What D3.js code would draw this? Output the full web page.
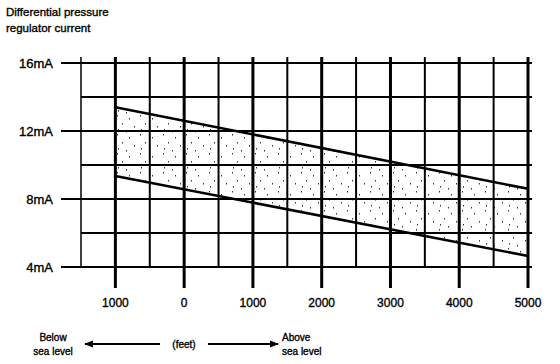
<!DOCTYPE html>
<html>
<head>
<meta charset="utf-8">
<script src="https://cdn.jsdelivr.net/npm/d3@7"></script>
<style>
  body { margin: 0; background: #fff; }
  text { font-family: "Liberation Sans", Arial, sans-serif; fill: #000; stroke: #000; stroke-width: 0.35px; }
</style>
</head>
<body>
<div id="chart"></div>
<script>
// altitude in feet (negative = below sea level) and regulator current in mA
var altitudes = [-1000, 5000];
var upperCurrent = [13.4, 8.6];
var lowerCurrent = [9.35, 4.65];

var xTicks = [-1000, 0, 1000, 2000, 3000, 4000, 5000];
var xTickLabels = ["1000", "0", "1000", "2000", "3000", "4000", "5000"];
var xGrid = [-1500, -1000, -500, 0, 500, 1000, 1500, 2000, 2500, 3000, 3500, 4000, 4500, 5000];
var yTicks = [4, 8, 12, 16];
var yTickLabels = ["4mA", "8mA", "12mA", "16mA"];
var yGrid = [4, 6, 8, 10, 12, 14, 16];

var width = 560, height = 364;

var svg = d3.select("#chart")
    .append("svg")
    .attr("width", width)
    .attr("height", height);

// scales
var x = d3.scaleLinear()
    .domain([-1500, 5000])
    .range([81, 528]);

var y = d3.scaleLinear()
    .domain([4, 16])
    .range([267, 63]);

// sparse stipple pattern for the band
var defs = svg.append("defs");
var pat = defs.append("pattern")
    .attr("id", "stipple")
    .attr("patternUnits", "userSpaceOnUse")
    .attr("width", 23)
    .attr("height", 19);
var dots = [[2, 1], [14, 4], [7, 9], [19, 12], [3, 15], [11, 17]];
pat.selectAll("rect")
    .data(dots)
    .enter()
    .append("rect")
    .attr("x", d => d[0])
    .attr("y", d => d[1])
    .attr("width", 1)
    .attr("height", 1.5)
    .attr("fill", "#000")
    .attr("opacity", 0.8);

var band = altitudes.map((a, i) => ({ a: a, lo: lowerCurrent[i], hi: upperCurrent[i] }));

svg.append("path")
    .datum(band)
    .attr("fill", "url(#stipple)")
    .attr("d", d3.area()
        .x(d => x(d.a))
        .y0(d => y(d.lo))
        .y1(d => y(d.hi)));

// vertical grid lines
svg.append("g")
    .selectAll("line")
    .data(xGrid)
    .enter()
    .append("line")
    .attr("x1", d => x(d))
    .attr("x2", d => x(d))
    .attr("y1", 57)
    .attr("y2", d => xTicks.indexOf(d) >= 0 ? 288 : y(4))
    .attr("stroke", "#000")
    .attr("stroke-width", d => d === -1500 ? 1.5 : (xTicks.indexOf(d) >= 0 ? 3 : 2));

// horizontal grid lines
svg.append("g")
    .selectAll("line")
    .data(yGrid)
    .enter()
    .append("line")
    .attr("x1", d => yTicks.indexOf(d) >= 0 ? 61 : x(-1500))
    .attr("x2", 532)
    .attr("y1", d => y(d))
    .attr("y2", d => y(d))
    .attr("stroke", "#000")
    .attr("stroke-width", 2.2);

// band limit lines
var line = d3.line()
    .x(d => d[0])
    .y(d => d[1]);

svg.append("path")
    .datum(altitudes.map((a, i) => [x(a), y(upperCurrent[i])]))
    .attr("fill", "none")
    .attr("stroke", "#000")
    .attr("stroke-width", 2.6)
    .attr("d", line);

svg.append("path")
    .datum(altitudes.map((a, i) => [x(a), y(lowerCurrent[i])]))
    .attr("fill", "none")
    .attr("stroke", "#000")
    .attr("stroke-width", 2.6)
    .attr("d", line);

// y labels
svg.append("g")
    .selectAll("text")
    .data(yTicks)
    .enter()
    .append("text")
    .attr("x", 53)
    .attr("y", d => y(d) + 5)
    .attr("text-anchor", "end")
    .style("font-size", "13px")
    .text((d, i) => yTickLabels[i]);

// x labels
svg.append("g")
    .selectAll("text")
    .data(xTicks)
    .enter()
    .append("text")
    .attr("x", d => x(d))
    .attr("y", 307)
    .attr("text-anchor", "middle")
    .style("font-size", "12px")
    .text((d, i) => xTickLabels[i]);

// title
svg.append("text")
    .attr("x", 6)
    .attr("y", 16)
    .style("font-size", "11.5px")
    .text("Differential pressure");
svg.append("text")
    .attr("x", 6)
    .attr("y", 32)
    .style("font-size", "11.5px")
    .text("regulator current");

// bottom legend with arrows
defs.append("marker")
    .attr("id", "arrowhead")
    .attr("viewBox", "0 0 10 10")
    .attr("refX", 9)
    .attr("refY", 5)
    .attr("markerWidth", 4)
    .attr("markerHeight", 4)
    .attr("orient", "auto")
    .append("path")
    .attr("d", "M0,1 L10,5 L0,9 Z")
    .attr("fill", "#000");

svg.append("line")
    .attr("x1", 160).attr("x2", 85)
    .attr("y1", 344).attr("y2", 344)
    .attr("stroke", "#000")
    .attr("stroke-width", 2.2)
    .attr("marker-end", "url(#arrowhead)");

svg.append("line")
    .attr("x1", 208).attr("x2", 278)
    .attr("y1", 344).attr("y2", 344)
    .attr("stroke", "#000")
    .attr("stroke-width", 2.2)
    .attr("marker-end", "url(#arrowhead)");

svg.append("text")
    .attr("x", 184).attr("y", 348)
    .attr("text-anchor", "middle")
    .style("font-size", "10px")
    .text("(feet)");

svg.append("text")
    .attr("x", 53).attr("y", 341)
    .attr("text-anchor", "middle")
    .style("font-size", "10px")
    .text("Below");
svg.append("text")
    .attr("x", 53).attr("y", 355)
    .attr("text-anchor", "middle")
    .style("font-size", "10px")
    .text("sea level");

svg.append("text")
    .attr("x", 282).attr("y", 341)
    .style("font-size", "10px")
    .text("Above");
svg.append("text")
    .attr("x", 282).attr("y", 355)
    .style("font-size", "10px")
    .text("sea level");
</script>
</body>
</html>
